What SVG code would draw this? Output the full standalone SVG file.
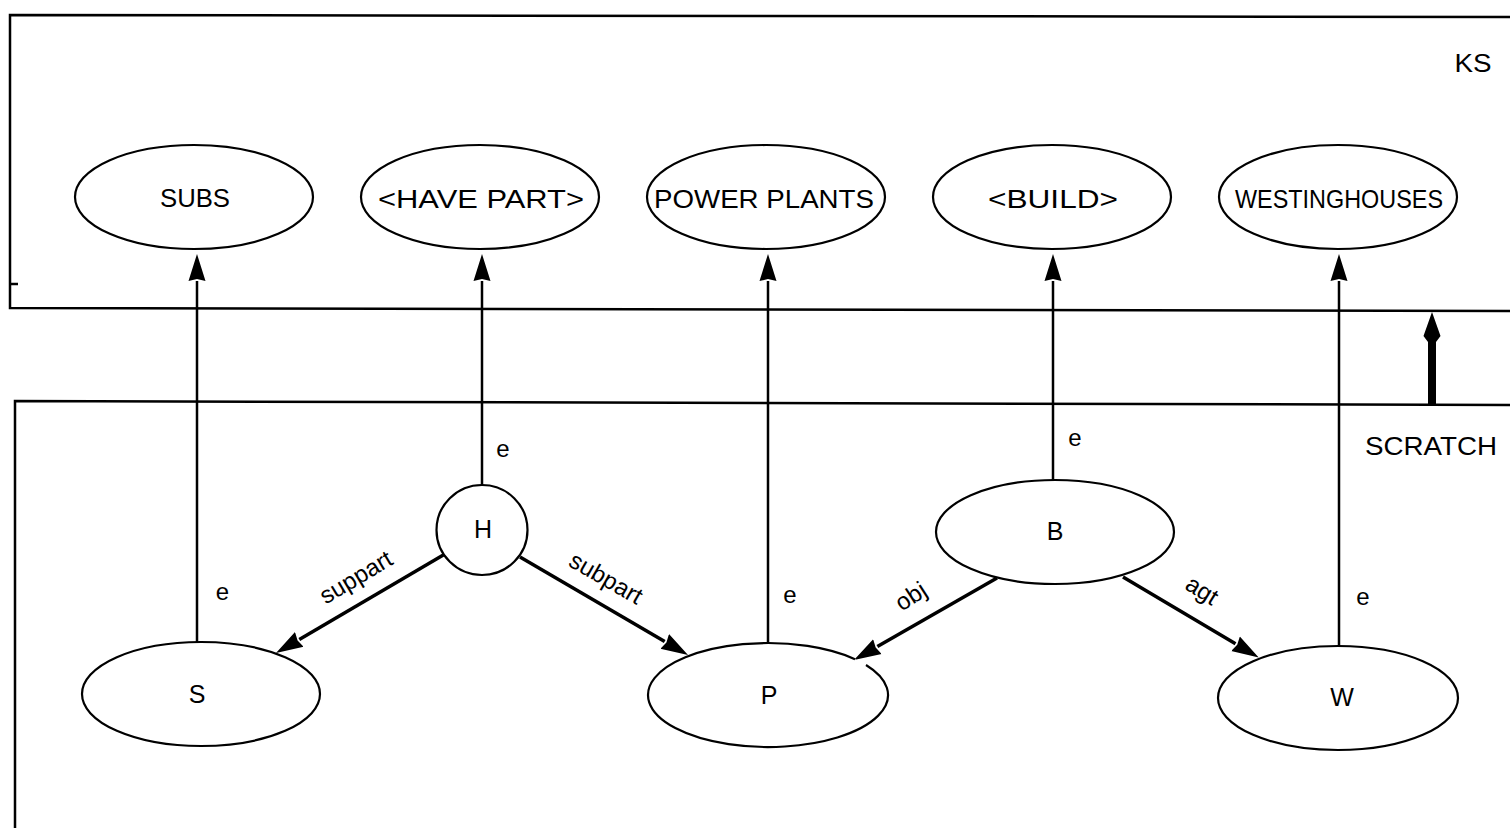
<svg xmlns="http://www.w3.org/2000/svg" width="1510" height="828" viewBox="0 0 1510 828">
  <style>
    .frame { fill: none; stroke: #000; stroke-width: 2.5; }
    .node ellipse, .node path.shape { fill: #fff; stroke: #000; stroke-width: 2.2; }
    .lbl { font-family: "Liberation Sans", Arial, sans-serif; font-size: 25px; fill: #000; text-anchor: middle; }
    .edge { fill: none; stroke: #000; stroke-width: 2.5; }
    .rel { fill: none; stroke: #000; stroke-width: 3.5; }
    .tag { font-family: "Liberation Sans", Arial, sans-serif; font-size: 24px; fill: #000; text-anchor: middle; }
  </style>
  <defs>
    <marker id="head" viewBox="0 -10 30 20" refX="0" refY="0" markerWidth="30" markerHeight="20" markerUnits="userSpaceOnUse" orient="auto">
      <path d="M27,0 L0,-8.5 L2,0 L0,8.5 Z" fill="#000"/>
    </marker>
  </defs>

  <rect width="1510" height="828" fill="#fff"/>

  <!-- knowledge store and scratch areas -->
  <g id="areas">
    <path class="frame" d="M1510,17 L10,15 L10,308 L1510,311"/>
    <line class="frame" x1="10" y1="284" x2="18" y2="284" stroke-width="2"/>
    <path class="frame" d="M1510,405 L15,401 L15,828"/>
    <text class="lbl" x="1473" y="72" textLength="37" lengthAdjust="spacingAndGlyphs">KS</text>
    <text class="lbl" x="1431" y="455" textLength="132" lengthAdjust="spacingAndGlyphs">SCRATCH</text>
    <!-- transfer arrow from scratch to KS -->
    <path d="M1432,312 L1440.5,336 L1436,342 L1436,405 L1428,405 L1428,342 L1423.5,336 Z" fill="#000"/>
  </g>

  <!-- connectors -->
  <g id="connectors">
    <line class="edge" x1="197" y1="642" x2="197" y2="281" marker-end="url(#head)"/>
    <line class="edge" x1="482" y1="485" x2="482" y2="281" marker-end="url(#head)"/>
    <line class="edge" x1="768" y1="643" x2="768" y2="281" marker-end="url(#head)"/>
    <line class="edge" x1="1053" y1="480" x2="1053" y2="281" marker-end="url(#head)"/>
    <line class="edge" x1="1339" y1="647" x2="1339" y2="281" marker-end="url(#head)"/>

    <line class="rel" x1="445" y1="554" x2="299.3" y2="639.4" marker-end="url(#head)"/>
    <line class="rel" x1="520" y1="557" x2="664.7" y2="641.4" marker-end="url(#head)"/>
    <line class="rel" x1="997" y1="578" x2="877.4" y2="646.6" marker-end="url(#head)"/>
    <line class="rel" x1="1123" y1="577" x2="1235.5" y2="643.8" marker-end="url(#head)"/>

    <text class="tag" x="222.5" y="600">e</text>
    <text class="tag" x="503" y="457">e</text>
    <text class="tag" x="790" y="603">e</text>
    <text class="tag" x="1075" y="446">e</text>
    <text class="tag" x="1363" y="605">e</text>

    <text class="tag" x="357" y="585" transform="rotate(-31 357 579)">suppart</text>
    <text class="tag" x="605" y="586" transform="rotate(30 605 580)">subpart</text>
    <text class="tag" x="912" y="604" transform="rotate(-33 912 598)">obj</text>
    <text class="tag" x="1201" y="598" transform="rotate(32 1201 592)">agt</text>
  </g>

  <!-- KS concept nodes -->
  <g id="ks-subs" class="node">
    <ellipse cx="194" cy="197" rx="119" ry="52"/>
    <text class="lbl" x="195" y="207" textLength="70" lengthAdjust="spacingAndGlyphs">SUBS</text>
  </g>
  <g id="ks-have-part" class="node">
    <ellipse cx="480" cy="197" rx="119" ry="52"/>
    <text class="lbl" x="481" y="208" textLength="206" lengthAdjust="spacingAndGlyphs">&lt;HAVE PART&gt;</text>
  </g>
  <g id="ks-power-plants" class="node">
    <ellipse cx="766" cy="197" rx="119" ry="52"/>
    <text class="lbl" x="764" y="208" textLength="220" lengthAdjust="spacingAndGlyphs">POWER PLANTS</text>
  </g>
  <g id="ks-build" class="node">
    <ellipse cx="1052" cy="197" rx="119" ry="52"/>
    <text class="lbl" x="1053" y="208" textLength="130" lengthAdjust="spacingAndGlyphs">&lt;BUILD&gt;</text>
  </g>
  <g id="ks-westinghouses" class="node">
    <ellipse cx="1338" cy="197" rx="119" ry="52"/>
    <text class="lbl" x="1339" y="208" textLength="208" lengthAdjust="spacingAndGlyphs">WESTINGHOUSES</text>
  </g>

  <!-- scratch instance nodes -->
  <g id="s" class="node">
    <ellipse cx="201" cy="694" rx="119" ry="52"/>
    <text class="lbl" x="197" y="703">S</text>
  </g>
  <g id="h" class="node">
    <ellipse cx="482" cy="530" rx="45.5" ry="45"/>
    <text class="lbl" x="483" y="538">H</text>
  </g>
  <g id="p" class="node">
    <path class="shape" d="M855,659.2 A120,52 0 1 0 866,665"/>
    <text class="lbl" x="769" y="704">P</text>
  </g>
  <g id="b" class="node">
    <ellipse cx="1055" cy="532" rx="119" ry="52"/>
    <text class="lbl" x="1055" y="540">B</text>
  </g>
  <g id="w" class="node">
    <ellipse cx="1338" cy="698" rx="120" ry="52"/>
    <text class="lbl" x="1342" y="706">W</text>
  </g>
</svg>
